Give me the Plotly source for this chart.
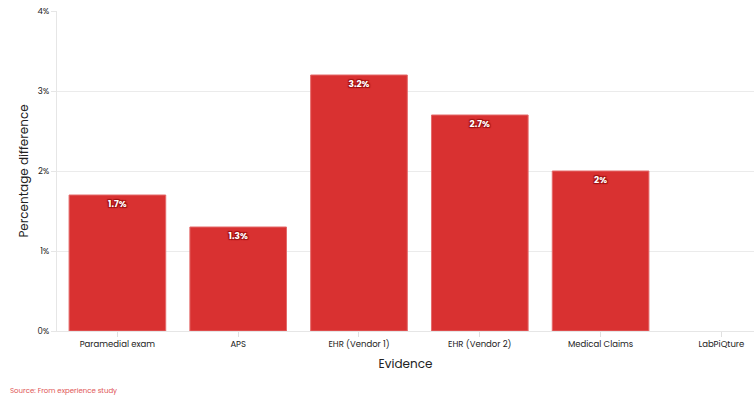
import plotly.graph_objects as go

categories = ["Paramedial exam", "APS", "EHR (Vendor 1)", "EHR (Vendor 2)", "Medical Claims", "LabPiQture"]
values = [1.7, 1.3, 3.2, 2.7, 2.0, None]
labels = ["1.7%", "1.3%", "3.2%", "2.7%", "2%", ""]
y_ticks = [0, 1, 2, 3, 4]
y_tick_text = ["0%", "1%", "2%", "3%", "4%"]

FONT = "Poppins, Open Sans, sans-serif"

fig = go.Figure(go.Bar(
    x=categories,
    y=values,
    text=labels,
    textposition="inside",
    insidetextanchor="end",
    textangle=0,
    textfont=dict(family=FONT, size=9, color="white", weight="bold",
                  shadow="1px 1px 1px #9b1010, -1px -1px 1px #9b1010, 1px -1px 1px #9b1010, -1px 1px 1px #9b1010"),
    marker=dict(color="#d93131", line=dict(color="#e46a6a", width=1)),
    hoverinfo="skip",
))

W, H = 754, 397
L, T, B, R = 57, 11, 66, 0
pw = W - L - R
ph = H - T - B

fig.update_layout(
    width=W, height=H,
    margin=dict(l=L, r=R, t=T, b=B),
    paper_bgcolor="white",
    plot_bgcolor="white",
    bargap=0.2,
    showlegend=False,
    font=dict(family=FONT, color="#222"),
    xaxis=dict(
        range=[-0.5, 5.27],
        showgrid=False,
        ticks="outside", ticklen=5, tickcolor="#e0e0e0",
        tickfont=dict(size=8.5, color="#222"),
        title=dict(text="Evidence", font=dict(size=12, color="#222"), standoff=10),
        showline=True, linecolor="#e6e6e6", linewidth=1,
    ),
    yaxis=dict(
        range=[0, 4],
        tickvals=y_ticks, ticktext=y_tick_text,
        showgrid=True, gridcolor="#ebebeb", gridwidth=1,
        ticks="outside", ticklen=5, tickcolor="#e6e6e6",
        tickfont=dict(size=8.5, color="#222"),
        title=dict(text="Percentage difference", font=dict(size=12, color="#222"), standoff=6),
        showline=True, linecolor="#e6e6e6", linewidth=1,
        zeroline=False,
    ),
    annotations=[dict(
        text="Source: From experience study",
        xref="paper", yref="paper",
        x=(8 - L) / pw, y=-(390 - (T + ph)) / ph,
        xanchor="left", yanchor="middle",
        showarrow=False,
        font=dict(family=FONT, size=7, color="#e05555"),
    )],
)

fig.write_html(
    "out.html",
    config={"displayModeBar": False},
    post_script="document.body.style.margin='0';document.body.style.overflow='hidden';",
)
